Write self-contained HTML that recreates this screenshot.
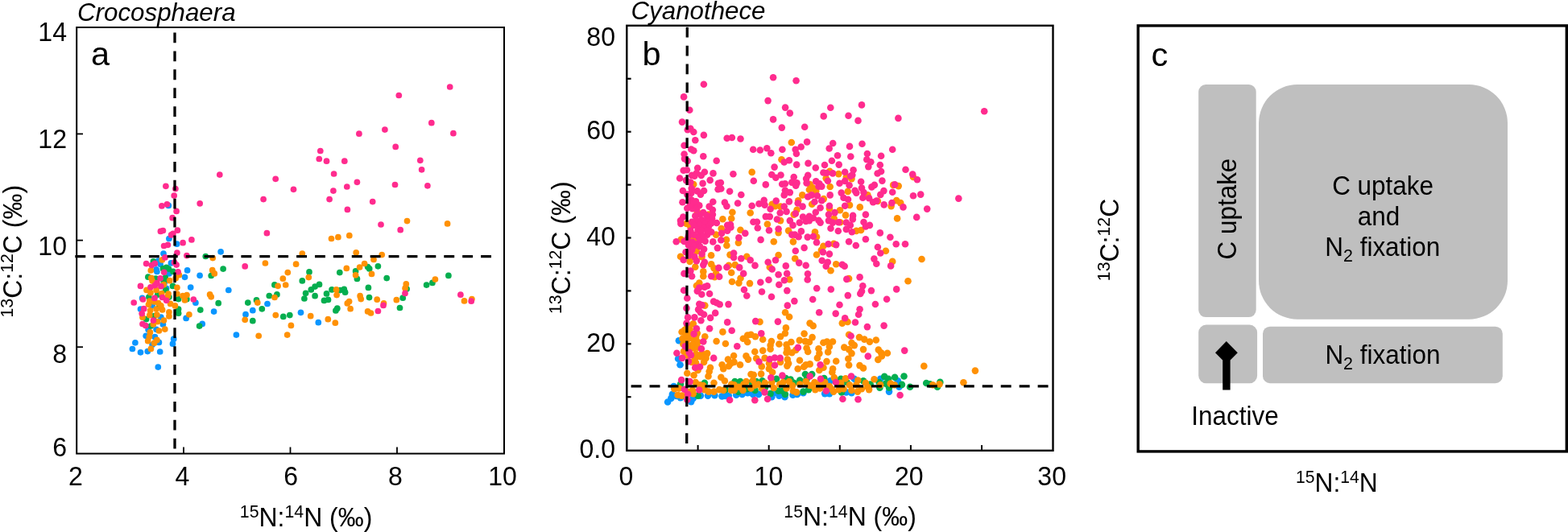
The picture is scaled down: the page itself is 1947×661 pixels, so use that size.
<!DOCTYPE html>
<html><head><meta charset="utf-8"><title>Figure</title>
<style>
html,body{margin:0;padding:0;background:#fff;}
body{width:1947px;height:661px;overflow:hidden;}
svg{display:block;}
text{font-family:"Liberation Sans",Arial,Helvetica,sans-serif;fill:#000;}
.tk{font-size:33.4px;}
.ax{font-size:33.3px;}
.bx{font-size:32.6px;}
.sup{font-size:22.2px;}
.ti{font-size:31.3px;font-style:italic;}
.pl{font-size:41.5px;}
.p{fill:#ff2b8e}.o{fill:#ff9105}.g{fill:#04ae4f}.b{fill:#0a96ff}
</style></head><body>
<svg width="1947" height="661" viewBox="0 0 1947 661">
<rect width="1947" height="661" fill="#fff"/>

<g id="panel-a">
<text class="ti" transform="translate(96,26)">Crocosphaera</text>
<circle class="b" cx="209.3" cy="255.4" r="3.85"/>
<circle class="b" cx="209.9" cy="296.5" r="3.85"/>
<circle class="b" cx="219.6" cy="303.2" r="3.85"/>
<circle class="b" cx="274.1" cy="312.8" r="3.85"/>
<circle class="b" cx="395.3" cy="400.7" r="3.85"/>
<circle class="b" cx="232.6" cy="335.9" r="3.85"/>
<circle class="b" cx="229.5" cy="344.3" r="3.85"/>
<circle class="b" cx="248.1" cy="342.3" r="3.85"/>
<circle class="b" cx="236.7" cy="357.1" r="3.85"/>
<circle class="b" cx="283.8" cy="360.5" r="3.85"/>
<circle class="b" cx="242.9" cy="376.2" r="3.85"/>
<circle class="b" cx="332.0" cy="377.5" r="3.85"/>
<circle class="b" cx="265.6" cy="387.1" r="3.85"/>
<circle class="b" cx="305.0" cy="390.7" r="3.85"/>
<circle class="b" cx="313.8" cy="385.7" r="3.85"/>
<circle class="b" cx="373.5" cy="388.3" r="3.85"/>
<circle class="b" cx="251.2" cy="402.4" r="3.85"/>
<circle class="b" cx="293.4" cy="416.1" r="3.85"/>
<circle class="b" cx="231.1" cy="395.4" r="3.85"/>
<circle class="b" cx="203.0" cy="315.0" r="3.85"/>
<circle class="b" cx="212.4" cy="326.9" r="3.85"/>
<circle class="b" cx="196.6" cy="324.1" r="3.85"/>
<circle class="b" cx="199.1" cy="328.3" r="3.85"/>
<circle class="b" cx="194.1" cy="334.9" r="3.85"/>
<circle class="b" cx="209.9" cy="340.0" r="3.85"/>
<circle class="b" cx="194.9" cy="337.5" r="3.85"/>
<circle class="b" cx="176.6" cy="370.4" r="3.85"/>
<circle class="b" cx="174.5" cy="384.1" r="3.85"/>
<circle class="b" cx="189.1" cy="379.9" r="3.85"/>
<circle class="b" cx="206.6" cy="358.3" r="3.85"/>
<circle class="b" cx="204.1" cy="351.6" r="3.85"/>
<circle class="b" cx="199.9" cy="394.2" r="3.85"/>
<circle class="b" cx="202.4" cy="402.9" r="3.85"/>
<circle class="b" cx="184.1" cy="409.5" r="3.85"/>
<circle class="b" cx="194.1" cy="409.3" r="3.85"/>
<circle class="b" cx="181.2" cy="417.3" r="3.85"/>
<circle class="b" cx="192.4" cy="418.7" r="3.85"/>
<circle class="b" cx="215.7" cy="421.2" r="3.85"/>
<circle class="b" cx="214.5" cy="427.2" r="3.85"/>
<circle class="b" cx="167.9" cy="425.8" r="3.85"/>
<circle class="b" cx="164.4" cy="433.5" r="3.85"/>
<circle class="b" cx="174.5" cy="437.8" r="3.85"/>
<circle class="b" cx="183.3" cy="436.6" r="3.85"/>
<circle class="b" cx="198.7" cy="437.0" r="3.85"/>
<circle class="b" cx="189.1" cy="428.3" r="3.85"/>
<circle class="b" cx="197.4" cy="425.4" r="3.85"/>
<circle class="b" cx="196.3" cy="456.1" r="3.85"/>
<circle class="g" cx="384.0" cy="337.9" r="3.85"/>
<circle class="g" cx="421.8" cy="338.6" r="3.85"/>
<circle class="g" cx="441.6" cy="336.9" r="3.85"/>
<circle class="g" cx="443.4" cy="346.4" r="3.85"/>
<circle class="g" cx="456.6" cy="331.6" r="3.85"/>
<circle class="g" cx="458.7" cy="333.9" r="3.85"/>
<circle class="g" cx="469.4" cy="330.8" r="3.85"/>
<circle class="g" cx="480.2" cy="345.6" r="3.85"/>
<circle class="g" cx="556.9" cy="342.4" r="3.85"/>
<circle class="g" cx="536.9" cy="351.4" r="3.85"/>
<circle class="g" cx="529.6" cy="354.1" r="3.85"/>
<circle class="g" cx="396.5" cy="353.4" r="3.85"/>
<circle class="g" cx="391.1" cy="356.1" r="3.85"/>
<circle class="g" cx="386.3" cy="359.9" r="3.85"/>
<circle class="g" cx="379.6" cy="364.3" r="3.85"/>
<circle class="g" cx="391.1" cy="367.7" r="3.85"/>
<circle class="g" cx="405.5" cy="364.9" r="3.85"/>
<circle class="g" cx="412.0" cy="359.9" r="3.85"/>
<circle class="g" cx="422.4" cy="360.6" r="3.85"/>
<circle class="g" cx="427.3" cy="359.4" r="3.85"/>
<circle class="g" cx="428.6" cy="363.2" r="3.85"/>
<circle class="g" cx="402.5" cy="373.4" r="3.85"/>
<circle class="g" cx="407.5" cy="372.4" r="3.85"/>
<circle class="g" cx="418.8" cy="383.2" r="3.85"/>
<circle class="g" cx="416.9" cy="385.9" r="3.85"/>
<circle class="g" cx="457.4" cy="357.4" r="3.85"/>
<circle class="g" cx="458.5" cy="369.6" r="3.85"/>
<circle class="g" cx="500.2" cy="370.2" r="3.85"/>
<circle class="g" cx="505.1" cy="359.1" r="3.85"/>
<circle class="g" cx="496.5" cy="382.5" r="3.85"/>
<circle class="g" cx="377.9" cy="371.0" r="3.85"/>
<circle class="g" cx="255.3" cy="318.5" r="3.85"/>
<circle class="g" cx="277.1" cy="334.1" r="3.85"/>
<circle class="g" cx="262.2" cy="342.5" r="3.85"/>
<circle class="g" cx="340.9" cy="353.9" r="3.85"/>
<circle class="g" cx="343.9" cy="365.9" r="3.85"/>
<circle class="g" cx="334.3" cy="367.5" r="3.85"/>
<circle class="g" cx="375.3" cy="348.9" r="3.85"/>
<circle class="g" cx="318.5" cy="372.9" r="3.85"/>
<circle class="g" cx="307.8" cy="376.1" r="3.85"/>
<circle class="g" cx="271.2" cy="376.7" r="3.85"/>
<circle class="g" cx="231.9" cy="371.7" r="3.85"/>
<circle class="g" cx="248.8" cy="385.1" r="3.85"/>
<circle class="g" cx="325.3" cy="383.8" r="3.85"/>
<circle class="g" cx="313.8" cy="398.7" r="3.85"/>
<circle class="g" cx="351.8" cy="393.4" r="3.85"/>
<circle class="g" cx="359.8" cy="391.6" r="3.85"/>
<circle class="g" cx="247.6" cy="405.1" r="3.85"/>
<circle class="g" cx="190.4" cy="324.9" r="3.85"/>
<circle class="g" cx="202.4" cy="333.7" r="3.85"/>
<circle class="g" cx="206.6" cy="332.4" r="3.85"/>
<circle class="g" cx="209.5" cy="334.1" r="3.85"/>
<circle class="g" cx="214.9" cy="337.4" r="3.85"/>
<circle class="g" cx="183.9" cy="344.2" r="3.85"/>
<circle class="g" cx="193.3" cy="346.2" r="3.85"/>
<circle class="g" cx="205.3" cy="345.0" r="3.85"/>
<circle class="g" cx="203.3" cy="350.0" r="3.85"/>
<circle class="g" cx="214.5" cy="355.4" r="3.85"/>
<circle class="g" cx="205.7" cy="360.4" r="3.85"/>
<circle class="g" cx="184.9" cy="369.1" r="3.85"/>
<circle class="g" cx="195.8" cy="366.2" r="3.85"/>
<circle class="g" cx="209.9" cy="369.1" r="3.85"/>
<circle class="g" cx="221.6" cy="371.6" r="3.85"/>
<circle class="g" cx="221.6" cy="384.1" r="3.85"/>
<circle class="g" cx="197.8" cy="380.8" r="3.85"/>
<circle class="g" cx="181.6" cy="396.6" r="3.85"/>
<circle class="g" cx="191.6" cy="392.5" r="3.85"/>
<circle class="g" cx="187.4" cy="405.0" r="3.85"/>
<circle class="g" cx="221.6" cy="389.2" r="3.85"/>
<circle class="o" cx="505.5" cy="274.6" r="3.85"/>
<circle class="o" cx="555.6" cy="277.9" r="3.85"/>
<circle class="o" cx="411.5" cy="296.5" r="3.85"/>
<circle class="o" cx="419.9" cy="294.7" r="3.85"/>
<circle class="o" cx="433.8" cy="292.7" r="3.85"/>
<circle class="o" cx="442.2" cy="313.8" r="3.85"/>
<circle class="o" cx="474.2" cy="316.6" r="3.85"/>
<circle class="o" cx="464.0" cy="322.5" r="3.85"/>
<circle class="o" cx="452.6" cy="327.5" r="3.85"/>
<circle class="o" cx="446.6" cy="332.0" r="3.85"/>
<circle class="o" cx="430.3" cy="333.4" r="3.85"/>
<circle class="o" cx="461.5" cy="340.4" r="3.85"/>
<circle class="o" cx="441.6" cy="341.8" r="3.85"/>
<circle class="o" cx="383.3" cy="344.6" r="3.85"/>
<circle class="o" cx="540.4" cy="347.1" r="3.85"/>
<circle class="o" cx="504.3" cy="352.9" r="3.85"/>
<circle class="o" cx="503.1" cy="358.2" r="3.85"/>
<circle class="o" cx="417.6" cy="359.9" r="3.85"/>
<circle class="o" cx="418.1" cy="366.6" r="3.85"/>
<circle class="o" cx="447.1" cy="367.7" r="3.85"/>
<circle class="o" cx="448.2" cy="371.6" r="3.85"/>
<circle class="o" cx="468.2" cy="372.2" r="3.85"/>
<circle class="o" cx="492.3" cy="372.7" r="3.85"/>
<circle class="o" cx="433.6" cy="374.6" r="3.85"/>
<circle class="o" cx="431.3" cy="376.9" r="3.85"/>
<circle class="o" cx="476.5" cy="376.9" r="3.85"/>
<circle class="o" cx="435.1" cy="383.7" r="3.85"/>
<circle class="o" cx="456.6" cy="386.9" r="3.85"/>
<circle class="o" cx="460.5" cy="389.0" r="3.85"/>
<circle class="o" cx="385.7" cy="392.7" r="3.85"/>
<circle class="o" cx="407.3" cy="396.7" r="3.85"/>
<circle class="o" cx="416.3" cy="401.2" r="3.85"/>
<circle class="o" cx="576.5" cy="373.9" r="3.85"/>
<circle class="o" cx="585.9" cy="371.6" r="3.85"/>
<circle class="o" cx="264.2" cy="320.6" r="3.85"/>
<circle class="o" cx="263.7" cy="335.7" r="3.85"/>
<circle class="o" cx="266.3" cy="339.9" r="3.85"/>
<circle class="o" cx="329.4" cy="327.0" r="3.85"/>
<circle class="o" cx="367.6" cy="328.2" r="3.85"/>
<circle class="o" cx="375.3" cy="315.1" r="3.85"/>
<circle class="o" cx="357.3" cy="338.6" r="3.85"/>
<circle class="o" cx="351.3" cy="346.2" r="3.85"/>
<circle class="o" cx="354.7" cy="354.0" r="3.85"/>
<circle class="o" cx="345.1" cy="355.3" r="3.85"/>
<circle class="o" cx="341.0" cy="369.5" r="3.85"/>
<circle class="o" cx="260.6" cy="365.9" r="3.85"/>
<circle class="o" cx="262.2" cy="368.8" r="3.85"/>
<circle class="o" cx="232.0" cy="366.6" r="3.85"/>
<circle class="o" cx="319.8" cy="376.1" r="3.85"/>
<circle class="o" cx="234.9" cy="390.8" r="3.85"/>
<circle class="o" cx="304.2" cy="397.3" r="3.85"/>
<circle class="o" cx="342.3" cy="391.6" r="3.85"/>
<circle class="o" cx="361.4" cy="404.4" r="3.85"/>
<circle class="o" cx="356.7" cy="416.1" r="3.85"/>
<circle class="o" cx="321.2" cy="417.3" r="3.85"/>
<circle class="o" cx="201.3" cy="322.9" r="3.85"/>
<circle class="o" cx="187.3" cy="336.0" r="3.85"/>
<circle class="o" cx="222.4" cy="341.7" r="3.85"/>
<circle class="o" cx="187.9" cy="345.4" r="3.85"/>
<circle class="o" cx="189.1" cy="349.1" r="3.85"/>
<circle class="o" cx="210.7" cy="348.7" r="3.85"/>
<circle class="o" cx="203.3" cy="353.7" r="3.85"/>
<circle class="o" cx="219.9" cy="357.3" r="3.85"/>
<circle class="o" cx="182.0" cy="360.4" r="3.85"/>
<circle class="o" cx="187.0" cy="363.7" r="3.85"/>
<circle class="o" cx="194.1" cy="360.4" r="3.85"/>
<circle class="o" cx="200.8" cy="364.5" r="3.85"/>
<circle class="o" cx="209.1" cy="365.0" r="3.85"/>
<circle class="o" cx="208.2" cy="368.3" r="3.85"/>
<circle class="o" cx="219.9" cy="365.0" r="3.85"/>
<circle class="o" cx="227.0" cy="367.5" r="3.85"/>
<circle class="o" cx="229.5" cy="372.9" r="3.85"/>
<circle class="o" cx="185.8" cy="374.1" r="3.85"/>
<circle class="o" cx="184.5" cy="378.3" r="3.85"/>
<circle class="o" cx="191.6" cy="374.9" r="3.85"/>
<circle class="o" cx="196.6" cy="376.6" r="3.85"/>
<circle class="o" cx="199.9" cy="379.9" r="3.85"/>
<circle class="o" cx="194.1" cy="384.1" r="3.85"/>
<circle class="o" cx="201.6" cy="384.9" r="3.85"/>
<circle class="o" cx="186.6" cy="385.8" r="3.85"/>
<circle class="o" cx="211.6" cy="377.4" r="3.85"/>
<circle class="o" cx="217.4" cy="379.9" r="3.85"/>
<circle class="o" cx="209.9" cy="387.8" r="3.85"/>
<circle class="o" cx="218.2" cy="345.8" r="3.85"/>
<circle class="o" cx="185.8" cy="391.7" r="3.85"/>
<circle class="o" cx="194.9" cy="391.2" r="3.85"/>
<circle class="o" cx="177.0" cy="394.2" r="3.85"/>
<circle class="o" cx="209.9" cy="392.9" r="3.85"/>
<circle class="o" cx="203.5" cy="398.1" r="3.85"/>
<circle class="o" cx="195.8" cy="399.6" r="3.85"/>
<circle class="o" cx="190.4" cy="402.9" r="3.85"/>
<circle class="o" cx="197.4" cy="411.0" r="3.85"/>
<circle class="o" cx="204.8" cy="409.1" r="3.85"/>
<circle class="o" cx="186.4" cy="412.9" r="3.85"/>
<circle class="o" cx="185.4" cy="418.3" r="3.85"/>
<circle class="o" cx="183.7" cy="423.7" r="3.85"/>
<circle class="o" cx="194.9" cy="422.4" r="3.85"/>
<circle class="o" cx="191.6" cy="426.2" r="3.85"/>
<circle class="o" cx="187.4" cy="433.4" r="3.85"/>
<circle class="p" cx="558.7" cy="108.0" r="3.85"/>
<circle class="p" cx="495.3" cy="118.5" r="3.85"/>
<circle class="p" cx="535.8" cy="152.7" r="3.85"/>
<circle class="p" cx="562.9" cy="165.7" r="3.85"/>
<circle class="p" cx="477.9" cy="161.1" r="3.85"/>
<circle class="p" cx="445.9" cy="166.2" r="3.85"/>
<circle class="p" cx="491.2" cy="182.4" r="3.85"/>
<circle class="p" cx="397.8" cy="187.5" r="3.85"/>
<circle class="p" cx="396.3" cy="197.5" r="3.85"/>
<circle class="p" cx="405.5" cy="200.2" r="3.85"/>
<circle class="p" cx="427.8" cy="200.2" r="3.85"/>
<circle class="p" cx="521.8" cy="199.3" r="3.85"/>
<circle class="p" cx="272.8" cy="217.1" r="3.85"/>
<circle class="p" cx="342.2" cy="222.3" r="3.85"/>
<circle class="p" cx="364.5" cy="235.3" r="3.85"/>
<circle class="p" cx="327.1" cy="247.6" r="3.85"/>
<circle class="p" cx="248.2" cy="252.8" r="3.85"/>
<circle class="p" cx="205.9" cy="231.3" r="3.85"/>
<circle class="p" cx="217.9" cy="234.6" r="3.85"/>
<circle class="p" cx="216.2" cy="243.1" r="3.85"/>
<circle class="p" cx="207.4" cy="253.9" r="3.85"/>
<circle class="p" cx="200.9" cy="255.9" r="3.85"/>
<circle class="p" cx="219.1" cy="262.4" r="3.85"/>
<circle class="p" cx="214.1" cy="270.7" r="3.85"/>
<circle class="p" cx="220.4" cy="286.2" r="3.85"/>
<circle class="p" cx="199.4" cy="287.4" r="3.85"/>
<circle class="p" cx="202.4" cy="286.5" r="3.85"/>
<circle class="p" cx="212.6" cy="291.9" r="3.85"/>
<circle class="p" cx="214.9" cy="290.4" r="3.85"/>
<circle class="p" cx="237.9" cy="297.9" r="3.85"/>
<circle class="p" cx="227.1" cy="301.7" r="3.85"/>
<circle class="p" cx="203.6" cy="305.5" r="3.85"/>
<circle class="p" cx="208.4" cy="304.3" r="3.85"/>
<circle class="p" cx="331.4" cy="289.7" r="3.85"/>
<circle class="p" cx="523.6" cy="210.8" r="3.85"/>
<circle class="p" cx="414.6" cy="216.0" r="3.85"/>
<circle class="p" cx="443.4" cy="226.3" r="3.85"/>
<circle class="p" cx="430.8" cy="232.0" r="3.85"/>
<circle class="p" cx="490.5" cy="229.5" r="3.85"/>
<circle class="p" cx="530.9" cy="230.8" r="3.85"/>
<circle class="p" cx="413.9" cy="237.1" r="3.85"/>
<circle class="p" cx="409.1" cy="247.6" r="3.85"/>
<circle class="p" cx="462.7" cy="250.6" r="3.85"/>
<circle class="p" cx="431.4" cy="260.4" r="3.85"/>
<circle class="p" cx="473.0" cy="279.0" r="3.85"/>
<circle class="p" cx="497.2" cy="285.7" r="3.85"/>
<circle class="p" cx="503.0" cy="364.4" r="3.85"/>
<circle class="p" cx="476.0" cy="379.4" r="3.85"/>
<circle class="p" cx="469.4" cy="386.5" r="3.85"/>
<circle class="p" cx="571.9" cy="366.2" r="3.85"/>
<circle class="p" cx="585.2" cy="374.2" r="3.85"/>
<circle class="p" cx="304.2" cy="330.9" r="3.85"/>
<circle class="p" cx="231.9" cy="317.6" r="3.85"/>
<circle class="p" cx="240.3" cy="372.0" r="3.85"/>
<circle class="p" cx="219.9" cy="314.0" r="3.85"/>
<circle class="p" cx="204.9" cy="319.9" r="3.85"/>
<circle class="p" cx="181.6" cy="327.6" r="3.85"/>
<circle class="p" cx="188.3" cy="329.5" r="3.85"/>
<circle class="p" cx="192.3" cy="327.4" r="3.85"/>
<circle class="p" cx="219.1" cy="329.1" r="3.85"/>
<circle class="p" cx="216.6" cy="326.2" r="3.85"/>
<circle class="p" cx="203.7" cy="338.3" r="3.85"/>
<circle class="p" cx="221.1" cy="337.8" r="3.85"/>
<circle class="p" cx="174.5" cy="355.4" r="3.85"/>
<circle class="p" cx="166.2" cy="376.0" r="3.85"/>
<circle class="p" cx="177.5" cy="372.0" r="3.85"/>
<circle class="p" cx="178.7" cy="383.7" r="3.85"/>
<circle class="p" cx="176.2" cy="389.6" r="3.85"/>
<circle class="p" cx="199.1" cy="345.8" r="3.85"/>
<circle class="p" cx="194.9" cy="351.6" r="3.85"/>
<circle class="p" cx="192.4" cy="354.6" r="3.85"/>
<circle class="p" cx="187.0" cy="356.8" r="3.85"/>
<circle class="p" cx="199.9" cy="355.8" r="3.85"/>
<circle class="p" cx="192.0" cy="370.4" r="3.85"/>
<circle class="p" cx="201.6" cy="369.5" r="3.85"/>
<circle class="p" cx="206.6" cy="373.3" r="3.85"/>
<circle class="p" cx="190.4" cy="398.1" r="3.85"/>
<circle class="p" cx="177.0" cy="402.5" r="3.85"/>
<circle class="p" cx="180.8" cy="404.6" r="3.85"/>
<rect x="95.2" y="34" width="530.8" height="529.6" fill="none" stroke="#000" stroke-width="2"/>
<line x1="228" y1="563" x2="228" y2="555.5" stroke="#000" stroke-width="1.8"/>
<line x1="360.5" y1="563" x2="360.5" y2="555.5" stroke="#000" stroke-width="1.8"/>
<line x1="493" y1="563" x2="493" y2="555.5" stroke="#000" stroke-width="1.8"/>
<line x1="95.5" y1="166.4" x2="103" y2="166.4" stroke="#000" stroke-width="1.8"/>
<line x1="95.5" y1="298.6" x2="103" y2="298.6" stroke="#000" stroke-width="1.8"/>
<line x1="95.5" y1="431.2" x2="103" y2="431.2" stroke="#000" stroke-width="1.8"/>
<line x1="217" y1="40.5" x2="217" y2="558" stroke="#000" stroke-width="3.3" stroke-dasharray="12.8 10.12"/>
<line x1="93.3" y1="318.7" x2="612" y2="318.7" stroke="#000" stroke-width="3.3" stroke-dasharray="12.9 10"/>
<text class="tk" transform="translate(83,50.5) scale(0.96,1)" text-anchor="end">14</text>
<text class="tk" transform="translate(83,184) scale(0.96,1)" text-anchor="end">12</text>
<text class="tk" transform="translate(83,317.4) scale(0.96,1)" text-anchor="end">10</text>
<text class="tk" transform="translate(83,451.1) scale(0.96,1)" text-anchor="end">8</text>
<text class="tk" transform="translate(83,567.3) scale(0.96,1)" text-anchor="end">6</text>
<text class="tk" transform="translate(94,602.6) scale(0.96,1)" text-anchor="middle">2</text>
<text class="tk" transform="translate(226.5,602.6) scale(0.96,1)" text-anchor="middle">4</text>
<text class="tk" transform="translate(361.2,602.6) scale(0.96,1)" text-anchor="middle">6</text>
<text class="tk" transform="translate(490.8,602.6) scale(0.96,1)" text-anchor="middle">8</text>
<text class="tk" transform="translate(624,602.6) scale(0.96,1)" text-anchor="middle">10</text>
<text class="pl" transform="translate(113,81.3)">a</text>
<text class="ax" transform="translate(297.8,653.6) scale(0.96,1)"><tspan class="sup" dy="-10.6">15</tspan><tspan dy="10.6">N:</tspan><tspan class="sup" dy="-10.6">14</tspan><tspan dy="10.6">N (‰)</tspan></text>
<text class="ax" transform="translate(26.5,394.5) rotate(-90) scale(0.96,1)"><tspan class="sup" dy="-10.6">13</tspan><tspan dy="10.6">C:</tspan><tspan class="sup" dy="-10.6">12</tspan><tspan dy="10.6">C (‰)</tspan></text>
</g>
<g id="panel-b">
<text class="ti" transform="translate(783.5,24)">Cyanothece</text>
<circle class="b" cx="842.9" cy="423.3" r="4.3"/>
<circle class="b" cx="842.1" cy="445.8" r="4.3"/>
<circle class="b" cx="844.5" cy="453.3" r="4.3"/>
<circle class="b" cx="836.6" cy="480.0" r="4.3"/>
<circle class="b" cx="834.9" cy="489.9" r="4.3"/>
<circle class="b" cx="833.3" cy="494.9" r="4.3"/>
<circle class="b" cx="829.1" cy="499.5" r="4.3"/>
<circle class="b" cx="844.9" cy="494.1" r="4.3"/>
<circle class="b" cx="858.2" cy="499.1" r="4.3"/>
<circle class="b" cx="879.0" cy="491.6" r="4.3"/>
<circle class="b" cx="896.5" cy="492.4" r="4.3"/>
<circle class="b" cx="904.8" cy="491.6" r="4.3"/>
<circle class="b" cx="860.7" cy="494.9" r="4.3"/>
<circle class="b" cx="914.2" cy="490.8" r="4.3"/>
<circle class="b" cx="921.6" cy="489.9" r="4.3"/>
<circle class="b" cx="928.3" cy="488.3" r="4.3"/>
<circle class="b" cx="942.0" cy="489.9" r="4.3"/>
<circle class="b" cx="960.8" cy="488.3" r="4.3"/>
<circle class="b" cx="974.5" cy="493.3" r="4.3"/>
<circle class="b" cx="984.5" cy="490.8" r="4.3"/>
<circle class="b" cx="997.4" cy="488.3" r="4.3"/>
<circle class="b" cx="1024.2" cy="489.1" r="4.3"/>
<circle class="b" cx="958.3" cy="493.3" r="4.3"/>
<circle class="b" cx="1030.8" cy="473.3" r="4.3"/>
<circle class="b" cx="1030.0" cy="489.1" r="4.3"/>
<circle class="b" cx="1050.8" cy="487.4" r="4.3"/>
<circle class="b" cx="1057.4" cy="488.3" r="4.3"/>
<circle class="b" cx="1093.2" cy="470.8" r="4.3"/>
<circle class="b" cx="1104.0" cy="486.6" r="4.3"/>
<circle class="b" cx="1114.9" cy="473.3" r="4.3"/>
<circle class="b" cx="1116.5" cy="480.8" r="4.3"/>
<circle class="b" cx="1060.8" cy="470.8" r="4.3"/>
<circle class="b" cx="935.0" cy="489.9" r="4.3"/>
<circle class="b" cx="967.4" cy="491.6" r="4.3"/>
<circle class="b" cx="989.9" cy="489.9" r="4.3"/>
<circle class="b" cx="839.9" cy="492.0" r="4.3"/>
<circle class="b" cx="851.6" cy="493.3" r="4.3"/>
<circle class="b" cx="869.9" cy="491.6" r="4.3"/>
<circle class="b" cx="887.4" cy="491.2" r="4.3"/>
<circle class="b" cx="900.7" cy="492.0" r="4.3"/>
<circle class="g" cx="1150.2" cy="476.0" r="4.3"/>
<circle class="g" cx="1167.3" cy="474.9" r="4.3"/>
<circle class="g" cx="1164.0" cy="480.7" r="4.3"/>
<circle class="g" cx="1154.8" cy="477.4" r="4.3"/>
<circle class="g" cx="874.9" cy="475.8" r="4.3"/>
<circle class="g" cx="900.7" cy="484.1" r="4.3"/>
<circle class="g" cx="866.6" cy="491.6" r="4.3"/>
<circle class="g" cx="844.9" cy="477.5" r="4.3"/>
<circle class="g" cx="912.5" cy="474.1" r="4.3"/>
<circle class="g" cx="919.2" cy="474.1" r="4.3"/>
<circle class="g" cx="916.7" cy="486.6" r="4.3"/>
<circle class="g" cx="939.1" cy="474.1" r="4.3"/>
<circle class="g" cx="937.5" cy="484.9" r="4.3"/>
<circle class="g" cx="946.6" cy="473.3" r="4.3"/>
<circle class="g" cx="956.6" cy="489.1" r="4.3"/>
<circle class="g" cx="964.1" cy="470.8" r="4.3"/>
<circle class="g" cx="966.6" cy="485.8" r="4.3"/>
<circle class="g" cx="975.7" cy="470.0" r="4.3"/>
<circle class="g" cx="981.6" cy="471.6" r="4.3"/>
<circle class="g" cx="974.9" cy="489.9" r="4.3"/>
<circle class="g" cx="971.6" cy="485.8" r="4.3"/>
<circle class="g" cx="985.7" cy="475.8" r="4.3"/>
<circle class="g" cx="999.9" cy="465.0" r="4.3"/>
<circle class="g" cx="1008.2" cy="465.0" r="4.3"/>
<circle class="g" cx="997.4" cy="486.6" r="4.3"/>
<circle class="g" cx="1004.0" cy="484.1" r="4.3"/>
<circle class="g" cx="993.2" cy="472.5" r="4.3"/>
<circle class="g" cx="1023.3" cy="470.0" r="4.3"/>
<circle class="g" cx="1044.1" cy="470.8" r="4.3"/>
<circle class="g" cx="1045.0" cy="487.4" r="4.3"/>
<circle class="g" cx="1072.0" cy="473.3" r="4.3"/>
<circle class="g" cx="1051.6" cy="475.0" r="4.3"/>
<circle class="g" cx="1080.7" cy="477.5" r="4.3"/>
<circle class="g" cx="1092.4" cy="481.6" r="4.3"/>
<circle class="g" cx="1098.2" cy="467.9" r="4.3"/>
<circle class="g" cx="1103.2" cy="470.8" r="4.3"/>
<circle class="g" cx="1099.9" cy="476.6" r="4.3"/>
<circle class="g" cx="1104.0" cy="481.6" r="4.3"/>
<circle class="g" cx="1111.1" cy="468.7" r="4.3"/>
<circle class="g" cx="1122.5" cy="467.5" r="4.3"/>
<circle class="g" cx="1119.9" cy="477.9" r="4.3"/>
<circle class="g" cx="1130.0" cy="480.8" r="4.3"/>
<circle class="g" cx="1091.6" cy="475.0" r="4.3"/>
<circle class="g" cx="927.5" cy="483.3" r="4.3"/>
<circle class="g" cx="949.9" cy="481.6" r="4.3"/>
<circle class="g" cx="1001.5" cy="471.6" r="4.3"/>
<circle class="g" cx="933.3" cy="475.0" r="4.3"/>
<circle class="o" cx="982.8" cy="177.0" r="4.3"/>
<circle class="o" cx="970.5" cy="198.3" r="4.3"/>
<circle class="o" cx="1041.3" cy="216.1" r="4.3"/>
<circle class="o" cx="1050.8" cy="220.0" r="4.3"/>
<circle class="o" cx="1057.5" cy="222.1" r="4.3"/>
<circle class="o" cx="1134.0" cy="220.0" r="4.3"/>
<circle class="o" cx="1109.1" cy="229.9" r="4.3"/>
<circle class="o" cx="1115.7" cy="231.1" r="4.3"/>
<circle class="o" cx="1052.8" cy="237.9" r="4.3"/>
<circle class="o" cx="1077.4" cy="242.4" r="4.3"/>
<circle class="o" cx="1113.2" cy="249.1" r="4.3"/>
<circle class="o" cx="1118.2" cy="252.1" r="4.3"/>
<circle class="o" cx="1106.6" cy="256.1" r="4.3"/>
<circle class="o" cx="1089.9" cy="249.9" r="4.3"/>
<circle class="o" cx="1055.0" cy="254.9" r="4.3"/>
<circle class="o" cx="1067.8" cy="257.4" r="4.3"/>
<circle class="o" cx="1043.0" cy="261.2" r="4.3"/>
<circle class="o" cx="1050.0" cy="267.4" r="4.3"/>
<circle class="o" cx="1043.3" cy="276.2" r="4.3"/>
<circle class="o" cx="1114.1" cy="271.4" r="4.3"/>
<circle class="o" cx="1063.3" cy="286.9" r="4.3"/>
<circle class="o" cx="1069.1" cy="286.0" r="4.3"/>
<circle class="o" cx="861.2" cy="229.1" r="4.3"/>
<circle class="o" cx="933.7" cy="213.9" r="4.3"/>
<circle class="o" cx="1030.3" cy="212.9" r="4.3"/>
<circle class="o" cx="1025.7" cy="221.6" r="4.3"/>
<circle class="o" cx="1005.7" cy="229.1" r="4.3"/>
<circle class="o" cx="1009.0" cy="233.3" r="4.3"/>
<circle class="o" cx="1004.9" cy="235.8" r="4.3"/>
<circle class="o" cx="1013.2" cy="237.4" r="4.3"/>
<circle class="o" cx="1030.7" cy="232.0" r="4.3"/>
<circle class="o" cx="996.3" cy="242.4" r="4.3"/>
<circle class="o" cx="1022.8" cy="247.1" r="4.3"/>
<circle class="o" cx="863.3" cy="250.8" r="4.3"/>
<circle class="o" cx="865.8" cy="262.9" r="4.3"/>
<circle class="o" cx="879.9" cy="266.6" r="4.3"/>
<circle class="o" cx="909.4" cy="263.7" r="4.3"/>
<circle class="o" cx="908.2" cy="271.5" r="4.3"/>
<circle class="o" cx="897.4" cy="272.3" r="4.3"/>
<circle class="o" cx="931.7" cy="264.5" r="4.3"/>
<circle class="o" cx="852.5" cy="277.9" r="4.3"/>
<circle class="o" cx="857.4" cy="282.0" r="4.3"/>
<circle class="o" cx="895.7" cy="284.1" r="4.3"/>
<circle class="o" cx="919.4" cy="285.8" r="4.3"/>
<circle class="o" cx="889.1" cy="291.6" r="4.3"/>
<circle class="o" cx="845.8" cy="297.5" r="4.3"/>
<circle class="o" cx="861.6" cy="296.7" r="4.3"/>
<circle class="o" cx="902.0" cy="297.9" r="4.3"/>
<circle class="o" cx="991.2" cy="249.2" r="4.3"/>
<circle class="o" cx="958.7" cy="253.7" r="4.3"/>
<circle class="o" cx="962.5" cy="256.2" r="4.3"/>
<circle class="o" cx="969.1" cy="256.6" r="4.3"/>
<circle class="o" cx="989.5" cy="260.8" r="4.3"/>
<circle class="o" cx="985.7" cy="266.6" r="4.3"/>
<circle class="o" cx="1008.2" cy="253.7" r="4.3"/>
<circle class="o" cx="969.1" cy="274.1" r="4.3"/>
<circle class="o" cx="952.9" cy="278.5" r="4.3"/>
<circle class="o" cx="966.6" cy="289.1" r="4.3"/>
<circle class="o" cx="979.1" cy="286.6" r="4.3"/>
<circle class="o" cx="1012.0" cy="288.3" r="4.3"/>
<circle class="o" cx="1029.9" cy="259.1" r="4.3"/>
<circle class="o" cx="1035.7" cy="271.6" r="4.3"/>
<circle class="o" cx="1014.0" cy="294.2" r="4.3"/>
<circle class="o" cx="902.4" cy="305.0" r="4.3"/>
<circle class="o" cx="916.9" cy="301.6" r="4.3"/>
<circle class="o" cx="864.9" cy="312.1" r="4.3"/>
<circle class="o" cx="871.6" cy="319.1" r="4.3"/>
<circle class="o" cx="883.1" cy="317.3" r="4.3"/>
<circle class="o" cx="845.0" cy="318.7" r="4.3"/>
<circle class="o" cx="906.5" cy="316.6" r="4.3"/>
<circle class="o" cx="927.3" cy="318.7" r="4.3"/>
<circle class="o" cx="856.6" cy="324.9" r="4.3"/>
<circle class="o" cx="863.3" cy="331.6" r="4.3"/>
<circle class="o" cx="883.2" cy="328.3" r="4.3"/>
<circle class="o" cx="886.6" cy="333.3" r="4.3"/>
<circle class="o" cx="904.9" cy="329.9" r="4.3"/>
<circle class="o" cx="912.8" cy="329.1" r="4.3"/>
<circle class="o" cx="908.2" cy="338.7" r="4.3"/>
<circle class="o" cx="873.3" cy="337.4" r="4.3"/>
<circle class="o" cx="873.3" cy="343.3" r="4.3"/>
<circle class="o" cx="889.1" cy="339.9" r="4.3"/>
<circle class="o" cx="919.5" cy="345.8" r="4.3"/>
<circle class="o" cx="960.8" cy="300.2" r="4.3"/>
<circle class="o" cx="984.9" cy="300.4" r="4.3"/>
<circle class="o" cx="966.6" cy="317.0" r="4.3"/>
<circle class="o" cx="987.2" cy="321.2" r="4.3"/>
<circle class="o" cx="1014.0" cy="316.5" r="4.3"/>
<circle class="o" cx="1022.4" cy="305.8" r="4.3"/>
<circle class="o" cx="1019.9" cy="310.8" r="4.3"/>
<circle class="o" cx="1035.3" cy="302.9" r="4.3"/>
<circle class="o" cx="955.8" cy="332.0" r="4.3"/>
<circle class="o" cx="1038.2" cy="328.3" r="4.3"/>
<circle class="o" cx="1031.5" cy="336.2" r="4.3"/>
<circle class="o" cx="980.3" cy="347.2" r="4.3"/>
<circle class="o" cx="1099.9" cy="311.8" r="4.3"/>
<circle class="o" cx="1108.2" cy="324.9" r="4.3"/>
<circle class="o" cx="1144.5" cy="322.0" r="4.3"/>
<circle class="o" cx="1054.1" cy="346.1" r="4.3"/>
<circle class="o" cx="1127.5" cy="349.2" r="4.3"/>
<circle class="o" cx="1052.5" cy="400.0" r="4.3"/>
<circle class="o" cx="1045.8" cy="401.6" r="4.3"/>
<circle class="o" cx="887.4" cy="344.2" r="4.3"/>
<circle class="o" cx="909.0" cy="350.0" r="4.3"/>
<circle class="o" cx="917.4" cy="351.6" r="4.3"/>
<circle class="o" cx="931.0" cy="352.1" r="4.3"/>
<circle class="o" cx="868.3" cy="351.6" r="4.3"/>
<circle class="o" cx="864.9" cy="355.0" r="4.3"/>
<circle class="o" cx="875.3" cy="379.6" r="4.3"/>
<circle class="o" cx="975.1" cy="388.3" r="4.3"/>
<circle class="o" cx="980.1" cy="393.8" r="4.3"/>
<circle class="o" cx="943.5" cy="399.9" r="4.3"/>
<circle class="o" cx="860.8" cy="402.4" r="4.3"/>
<circle class="o" cx="1005.6" cy="401.6" r="4.3"/>
<circle class="o" cx="1009.7" cy="404.9" r="4.3"/>
<circle class="o" cx="975.9" cy="407.4" r="4.3"/>
<circle class="o" cx="897.4" cy="412.4" r="4.3"/>
<circle class="o" cx="1054.1" cy="415.8" r="4.3"/>
<circle class="o" cx="1067.0" cy="419.1" r="4.3"/>
<circle class="o" cx="1073.3" cy="421.6" r="4.3"/>
<circle class="o" cx="1079.9" cy="424.6" r="4.3"/>
<circle class="o" cx="1087.8" cy="422.5" r="4.3"/>
<circle class="o" cx="1057.5" cy="426.1" r="4.3"/>
<circle class="o" cx="1060.8" cy="429.1" r="4.3"/>
<circle class="o" cx="1048.3" cy="431.6" r="4.3"/>
<circle class="o" cx="1054.1" cy="434.1" r="4.3"/>
<circle class="o" cx="1072.0" cy="434.1" r="4.3"/>
<circle class="o" cx="1057.5" cy="439.1" r="4.3"/>
<circle class="o" cx="1090.8" cy="434.6" r="4.3"/>
<circle class="o" cx="1094.1" cy="438.3" r="4.3"/>
<circle class="o" cx="1101.9" cy="438.8" r="4.3"/>
<circle class="o" cx="1094.9" cy="442.4" r="4.3"/>
<circle class="o" cx="1090.3" cy="446.9" r="4.3"/>
<circle class="o" cx="1053.3" cy="445.7" r="4.3"/>
<circle class="o" cx="1038.2" cy="448.7" r="4.3"/>
<circle class="o" cx="1054.1" cy="453.6" r="4.3"/>
<circle class="o" cx="1067.5" cy="454.1" r="4.3"/>
<circle class="o" cx="1072.0" cy="457.4" r="4.3"/>
<circle class="o" cx="1147.3" cy="454.9" r="4.3"/>
<circle class="o" cx="1210.9" cy="460.6" r="4.3"/>
<circle class="o" cx="1196.4" cy="475.2" r="4.3"/>
<circle class="o" cx="1158.2" cy="478.2" r="4.3"/>
<circle class="o" cx="1166.5" cy="477.4" r="4.3"/>
<circle class="o" cx="856.6" cy="409.2" r="4.3"/>
<circle class="o" cx="846.6" cy="412.5" r="4.3"/>
<circle class="o" cx="850.0" cy="410.0" r="4.3"/>
<circle class="o" cx="865.8" cy="414.1" r="4.3"/>
<circle class="o" cx="875.3" cy="418.3" r="4.3"/>
<circle class="o" cx="847.5" cy="420.8" r="4.3"/>
<circle class="o" cx="854.9" cy="420.8" r="4.3"/>
<circle class="o" cx="861.6" cy="422.5" r="4.3"/>
<circle class="o" cx="866.6" cy="425.0" r="4.3"/>
<circle class="o" cx="859.9" cy="428.3" r="4.3"/>
<circle class="o" cx="861.6" cy="432.5" r="4.3"/>
<circle class="o" cx="849.1" cy="436.6" r="4.3"/>
<circle class="o" cx="864.1" cy="439.9" r="4.3"/>
<circle class="o" cx="871.6" cy="439.1" r="4.3"/>
<circle class="o" cx="878.2" cy="439.1" r="4.3"/>
<circle class="o" cx="876.6" cy="444.9" r="4.3"/>
<circle class="o" cx="874.1" cy="449.9" r="4.3"/>
<circle class="o" cx="864.1" cy="450.8" r="4.3"/>
<circle class="o" cx="859.1" cy="449.9" r="4.3"/>
<circle class="o" cx="889.6" cy="424.0" r="4.3"/>
<circle class="o" cx="900.9" cy="427.0" r="4.3"/>
<circle class="o" cx="922.8" cy="420.8" r="4.3"/>
<circle class="o" cx="928.2" cy="416.6" r="4.3"/>
<circle class="o" cx="928.2" cy="425.0" r="4.3"/>
<circle class="o" cx="911.1" cy="442.0" r="4.3"/>
<circle class="o" cx="904.0" cy="446.6" r="4.3"/>
<circle class="o" cx="911.5" cy="449.9" r="4.3"/>
<circle class="o" cx="907.4" cy="451.6" r="4.3"/>
<circle class="o" cx="896.6" cy="453.3" r="4.3"/>
<circle class="o" cx="904.8" cy="455.0" r="4.3"/>
<circle class="o" cx="919.0" cy="453.3" r="4.3"/>
<circle class="o" cx="882.0" cy="456.7" r="4.3"/>
<circle class="o" cx="926.5" cy="442.4" r="4.3"/>
<circle class="o" cx="929.0" cy="446.6" r="4.3"/>
<circle class="o" cx="932.5" cy="415.8" r="4.3"/>
<circle class="o" cx="937.9" cy="418.3" r="4.3"/>
<circle class="o" cx="947.2" cy="421.8" r="4.3"/>
<circle class="o" cx="957.9" cy="424.1" r="4.3"/>
<circle class="o" cx="956.6" cy="429.1" r="4.3"/>
<circle class="o" cx="956.6" cy="433.7" r="4.3"/>
<circle class="o" cx="974.9" cy="414.1" r="4.3"/>
<circle class="o" cx="969.1" cy="418.3" r="4.3"/>
<circle class="o" cx="967.4" cy="427.5" r="4.3"/>
<circle class="o" cx="998.6" cy="414.6" r="4.3"/>
<circle class="o" cx="1008.6" cy="419.1" r="4.3"/>
<circle class="o" cx="992.8" cy="422.9" r="4.3"/>
<circle class="o" cx="999.9" cy="424.1" r="4.3"/>
<circle class="o" cx="1004.9" cy="425.0" r="4.3"/>
<circle class="o" cx="982.4" cy="425.0" r="4.3"/>
<circle class="o" cx="976.6" cy="428.3" r="4.3"/>
<circle class="o" cx="977.4" cy="433.3" r="4.3"/>
<circle class="o" cx="976.6" cy="438.3" r="4.3"/>
<circle class="o" cx="983.3" cy="438.3" r="4.3"/>
<circle class="o" cx="988.2" cy="434.9" r="4.3"/>
<circle class="o" cx="1001.6" cy="432.5" r="4.3"/>
<circle class="o" cx="1003.2" cy="437.0" r="4.3"/>
<circle class="o" cx="1022.4" cy="425.8" r="4.3"/>
<circle class="o" cx="1026.9" cy="424.5" r="4.3"/>
<circle class="o" cx="1034.0" cy="424.5" r="4.3"/>
<circle class="o" cx="1029.9" cy="430.8" r="4.3"/>
<circle class="o" cx="1016.5" cy="433.3" r="4.3"/>
<circle class="o" cx="1028.2" cy="437.4" r="4.3"/>
<circle class="o" cx="1017.4" cy="439.1" r="4.3"/>
<circle class="o" cx="1014.9" cy="444.9" r="4.3"/>
<circle class="o" cx="937.3" cy="437.0" r="4.3"/>
<circle class="o" cx="947.2" cy="435.6" r="4.3"/>
<circle class="o" cx="939.2" cy="445.3" r="4.3"/>
<circle class="o" cx="949.6" cy="444.9" r="4.3"/>
<circle class="o" cx="993.0" cy="447.8" r="4.3"/>
<circle class="o" cx="977.8" cy="446.6" r="4.3"/>
<circle class="o" cx="979.1" cy="451.6" r="4.3"/>
<circle class="o" cx="955.0" cy="451.6" r="4.3"/>
<circle class="o" cx="945.8" cy="455.4" r="4.3"/>
<circle class="o" cx="969.1" cy="449.9" r="4.3"/>
<circle class="o" cx="1000.7" cy="453.3" r="4.3"/>
<circle class="o" cx="1005.7" cy="452.4" r="4.3"/>
<circle class="o" cx="1026.5" cy="449.1" r="4.3"/>
<circle class="o" cx="1034.1" cy="458.3" r="4.3"/>
<circle class="o" cx="853.3" cy="463.7" r="4.3"/>
<circle class="o" cx="861.6" cy="466.2" r="4.3"/>
<circle class="o" cx="866.6" cy="460.0" r="4.3"/>
<circle class="o" cx="880.7" cy="461.6" r="4.3"/>
<circle class="o" cx="879.5" cy="467.5" r="4.3"/>
<circle class="o" cx="895.3" cy="468.7" r="4.3"/>
<circle class="o" cx="899.9" cy="473.3" r="4.3"/>
<circle class="o" cx="898.2" cy="458.3" r="4.3"/>
<circle class="o" cx="863.7" cy="475.0" r="4.3"/>
<circle class="o" cx="886.5" cy="475.8" r="4.3"/>
<circle class="o" cx="837.4" cy="483.3" r="4.3"/>
<circle class="o" cx="843.3" cy="482.5" r="4.3"/>
<circle class="o" cx="841.6" cy="490.8" r="4.3"/>
<circle class="o" cx="846.6" cy="491.6" r="4.3"/>
<circle class="o" cx="859.9" cy="484.9" r="4.3"/>
<circle class="o" cx="860.7" cy="489.1" r="4.3"/>
<circle class="o" cx="874.9" cy="484.1" r="4.3"/>
<circle class="o" cx="879.9" cy="486.6" r="4.3"/>
<circle class="o" cx="886.5" cy="486.6" r="4.3"/>
<circle class="o" cx="893.2" cy="484.1" r="4.3"/>
<circle class="o" cx="908.2" cy="484.9" r="4.3"/>
<circle class="o" cx="908.2" cy="477.5" r="4.3"/>
<circle class="o" cx="873.2" cy="479.1" r="4.3"/>
<circle class="o" cx="954.9" cy="458.3" r="4.3"/>
<circle class="o" cx="959.1" cy="462.5" r="4.3"/>
<circle class="o" cx="977.4" cy="454.6" r="4.3"/>
<circle class="o" cx="990.7" cy="458.3" r="4.3"/>
<circle class="o" cx="998.2" cy="455.8" r="4.3"/>
<circle class="o" cx="1017.3" cy="460.0" r="4.3"/>
<circle class="o" cx="932.5" cy="465.0" r="4.3"/>
<circle class="o" cx="935.8" cy="465.8" r="4.3"/>
<circle class="o" cx="945.1" cy="464.6" r="4.3"/>
<circle class="o" cx="935.0" cy="472.5" r="4.3"/>
<circle class="o" cx="911.7" cy="478.3" r="4.3"/>
<circle class="o" cx="923.3" cy="477.5" r="4.3"/>
<circle class="o" cx="926.6" cy="474.1" r="4.3"/>
<circle class="o" cx="922.5" cy="484.9" r="4.3"/>
<circle class="o" cx="911.7" cy="484.9" r="4.3"/>
<circle class="o" cx="932.5" cy="482.5" r="4.3"/>
<circle class="o" cx="949.9" cy="475.8" r="4.3"/>
<circle class="o" cx="958.3" cy="475.0" r="4.3"/>
<circle class="o" cx="945.8" cy="482.5" r="4.3"/>
<circle class="o" cx="968.2" cy="477.5" r="4.3"/>
<circle class="o" cx="979.9" cy="474.1" r="4.3"/>
<circle class="o" cx="976.6" cy="482.5" r="4.3"/>
<circle class="o" cx="984.9" cy="485.8" r="4.3"/>
<circle class="o" cx="989.0" cy="487.4" r="4.3"/>
<circle class="o" cx="993.2" cy="477.5" r="4.3"/>
<circle class="o" cx="1000.7" cy="474.1" r="4.3"/>
<circle class="o" cx="1011.5" cy="475.0" r="4.3"/>
<circle class="o" cx="1016.5" cy="477.5" r="4.3"/>
<circle class="o" cx="1012.3" cy="484.1" r="4.3"/>
<circle class="o" cx="1008.2" cy="479.1" r="4.3"/>
<circle class="o" cx="1033.3" cy="462.5" r="4.3"/>
<circle class="o" cx="1035.8" cy="469.1" r="4.3"/>
<circle class="o" cx="1022.5" cy="456.7" r="4.3"/>
<circle class="o" cx="1050.0" cy="470.4" r="4.3"/>
<circle class="o" cx="1044.1" cy="475.8" r="4.3"/>
<circle class="o" cx="1024.2" cy="475.0" r="4.3"/>
<circle class="o" cx="1030.0" cy="480.0" r="4.3"/>
<circle class="o" cx="1035.0" cy="486.6" r="4.3"/>
<circle class="o" cx="1032.5" cy="483.3" r="4.3"/>
<circle class="o" cx="1041.6" cy="484.1" r="4.3"/>
<circle class="o" cx="1047.5" cy="483.3" r="4.3"/>
<circle class="o" cx="1054.9" cy="478.3" r="4.3"/>
<circle class="o" cx="1057.4" cy="484.9" r="4.3"/>
<circle class="o" cx="1065.3" cy="472.5" r="4.3"/>
<circle class="o" cx="1063.3" cy="478.3" r="4.3"/>
<circle class="o" cx="1064.9" cy="486.6" r="4.3"/>
<circle class="o" cx="1069.9" cy="483.3" r="4.3"/>
<circle class="o" cx="1074.9" cy="475.8" r="4.3"/>
<circle class="o" cx="1077.4" cy="480.8" r="4.3"/>
<circle class="o" cx="1079.1" cy="484.1" r="4.3"/>
<circle class="o" cx="1085.5" cy="471.2" r="4.3"/>
<circle class="o" cx="1093.2" cy="478.3" r="4.3"/>
<circle class="o" cx="1105.7" cy="476.6" r="4.3"/>
<circle class="o" cx="1110.7" cy="478.3" r="4.3"/>
<circle class="o" cx="1022.5" cy="478.3" r="4.3"/>
<circle class="o" cx="851.6" cy="415.8" r="4.3"/>
<circle class="o" cx="857.4" cy="415.0" r="4.3"/>
<circle class="o" cx="864.1" cy="419.1" r="4.3"/>
<circle class="o" cx="852.5" cy="426.6" r="4.3"/>
<circle class="o" cx="856.6" cy="432.5" r="4.3"/>
<circle class="o" cx="853.3" cy="441.6" r="4.3"/>
<circle class="o" cx="863.3" cy="444.9" r="4.3"/>
<circle class="o" cx="869.9" cy="443.3" r="4.3"/>
<circle class="o" cx="853.3" cy="404.2" r="4.3"/>
<circle class="o" cx="848.3" cy="427.5" r="4.3"/>
<circle class="o" cx="866.6" cy="431.6" r="4.3"/>
<circle class="o" cx="917.5" cy="480.8" r="4.3"/>
<circle class="o" cx="937.5" cy="478.7" r="4.3"/>
<circle class="o" cx="960.8" cy="482.0" r="4.3"/>
<circle class="o" cx="984.1" cy="479.1" r="4.3"/>
<circle class="o" cx="1004.9" cy="478.7" r="4.3"/>
<circle class="o" cx="1018.2" cy="482.5" r="4.3"/>
<circle class="o" cx="941.6" cy="477.5" r="4.3"/>
<circle class="o" cx="972.4" cy="475.0" r="4.3"/>
<circle class="o" cx="853.3" cy="486.6" r="4.3"/>
<circle class="o" cx="869.1" cy="478.3" r="4.3"/>
<circle class="o" cx="898.2" cy="484.9" r="4.3"/>
<circle class="p" cx="960.1" cy="96.3" r="4.3"/>
<circle class="p" cx="988.6" cy="100.3" r="4.3"/>
<circle class="p" cx="873.9" cy="104.8" r="4.3"/>
<circle class="p" cx="849.1" cy="120.4" r="4.3"/>
<circle class="p" cx="953.6" cy="125.1" r="4.3"/>
<circle class="p" cx="975.1" cy="133.6" r="4.3"/>
<circle class="p" cx="980.8" cy="140.6" r="4.3"/>
<circle class="p" cx="1031.3" cy="133.8" r="4.3"/>
<circle class="p" cx="1022.7" cy="144.4" r="4.3"/>
<circle class="p" cx="856.3" cy="136.8" r="4.3"/>
<circle class="p" cx="847.0" cy="151.6" r="4.3"/>
<circle class="p" cx="960.1" cy="148.4" r="4.3"/>
<circle class="p" cx="970.8" cy="158.6" r="4.3"/>
<circle class="p" cx="999.2" cy="157.7" r="4.3"/>
<circle class="p" cx="853.8" cy="161.2" r="4.3"/>
<circle class="p" cx="857.4" cy="159.9" r="4.3"/>
<circle class="p" cx="861.3" cy="164.0" r="4.3"/>
<circle class="p" cx="873.9" cy="167.9" r="4.3"/>
<circle class="p" cx="863.3" cy="174.2" r="4.3"/>
<circle class="p" cx="902.7" cy="171.7" r="4.3"/>
<circle class="p" cx="908.9" cy="171.0" r="4.3"/>
<circle class="p" cx="919.5" cy="172.5" r="4.3"/>
<circle class="p" cx="1002.1" cy="176.4" r="4.3"/>
<circle class="p" cx="1034.2" cy="178.0" r="4.3"/>
<circle class="p" cx="994.7" cy="182.5" r="4.3"/>
<circle class="p" cx="1029.7" cy="184.5" r="4.3"/>
<circle class="p" cx="849.6" cy="180.7" r="4.3"/>
<circle class="p" cx="858.3" cy="185.5" r="4.3"/>
<circle class="p" cx="861.3" cy="187.3" r="4.3"/>
<circle class="p" cx="849.6" cy="191.5" r="4.3"/>
<circle class="p" cx="873.3" cy="194.3" r="4.3"/>
<circle class="p" cx="935.2" cy="185.8" r="4.3"/>
<circle class="p" cx="943.8" cy="186.5" r="4.3"/>
<circle class="p" cx="952.3" cy="184.2" r="4.3"/>
<circle class="p" cx="957.3" cy="190.2" r="4.3"/>
<circle class="p" cx="971.4" cy="185.8" r="4.3"/>
<circle class="p" cx="987.7" cy="185.7" r="4.3"/>
<circle class="p" cx="988.9" cy="191.0" r="4.3"/>
<circle class="p" cx="1040.0" cy="193.2" r="4.3"/>
<circle class="p" cx="1070.0" cy="130.4" r="4.3"/>
<circle class="p" cx="1053.5" cy="143.7" r="4.3"/>
<circle class="p" cx="1065.5" cy="149.9" r="4.3"/>
<circle class="p" cx="1115.4" cy="146.9" r="4.3"/>
<circle class="p" cx="1222.2" cy="138.3" r="4.3"/>
<circle class="p" cx="1055.0" cy="181.9" r="4.3"/>
<circle class="p" cx="1070.5" cy="178.7" r="4.3"/>
<circle class="p" cx="1108.2" cy="185.7" r="4.3"/>
<circle class="p" cx="1076.9" cy="191.0" r="4.3"/>
<circle class="p" cx="1056.3" cy="194.5" r="4.3"/>
<circle class="p" cx="1094.1" cy="193.7" r="4.3"/>
<circle class="p" cx="1076.3" cy="198.3" r="4.3"/>
<circle class="p" cx="1081.3" cy="201.3" r="4.3"/>
<circle class="p" cx="1078.3" cy="207.1" r="4.3"/>
<circle class="p" cx="1041.7" cy="204.6" r="4.3"/>
<circle class="p" cx="1092.8" cy="205.0" r="4.3"/>
<circle class="p" cx="1094.1" cy="213.0" r="4.3"/>
<circle class="p" cx="1089.6" cy="215.5" r="4.3"/>
<circle class="p" cx="1049.2" cy="213.8" r="4.3"/>
<circle class="p" cx="1059.6" cy="211.3" r="4.3"/>
<circle class="p" cx="1058.3" cy="217.5" r="4.3"/>
<circle class="p" cx="1056.1" cy="218.8" r="4.3"/>
<circle class="p" cx="1124.5" cy="210.8" r="4.3"/>
<circle class="p" cx="1133.2" cy="216.6" r="4.3"/>
<circle class="p" cx="1138.9" cy="223.3" r="4.3"/>
<circle class="p" cx="1049.2" cy="224.9" r="4.3"/>
<circle class="p" cx="1042.5" cy="227.8" r="4.3"/>
<circle class="p" cx="1054.6" cy="230.3" r="4.3"/>
<circle class="p" cx="1069.1" cy="225.8" r="4.3"/>
<circle class="p" cx="1070.0" cy="233.6" r="4.3"/>
<circle class="p" cx="1095.4" cy="224.6" r="4.3"/>
<circle class="p" cx="1085.8" cy="229.9" r="4.3"/>
<circle class="p" cx="1082.4" cy="232.4" r="4.3"/>
<circle class="p" cx="1111.1" cy="229.4" r="4.3"/>
<circle class="p" cx="1061.6" cy="236.9" r="4.3"/>
<circle class="p" cx="1063.3" cy="239.6" r="4.3"/>
<circle class="p" cx="1072.5" cy="239.1" r="4.3"/>
<circle class="p" cx="1044.7" cy="239.6" r="4.3"/>
<circle class="p" cx="1108.2" cy="238.8" r="4.3"/>
<circle class="p" cx="1097.4" cy="237.1" r="4.3"/>
<circle class="p" cx="1093.3" cy="241.9" r="4.3"/>
<circle class="p" cx="1134.0" cy="243.3" r="4.3"/>
<circle class="p" cx="1143.2" cy="241.6" r="4.3"/>
<circle class="p" cx="1190.3" cy="246.6" r="4.3"/>
<circle class="p" cx="1047.5" cy="245.7" r="4.3"/>
<circle class="p" cx="1053.0" cy="247.7" r="4.3"/>
<circle class="p" cx="1071.3" cy="245.7" r="4.3"/>
<circle class="p" cx="1079.1" cy="246.2" r="4.3"/>
<circle class="p" cx="1084.1" cy="251.2" r="4.3"/>
<circle class="p" cx="1088.3" cy="249.6" r="4.3"/>
<circle class="p" cx="1097.7" cy="254.4" r="4.3"/>
<circle class="p" cx="1107.4" cy="252.1" r="4.3"/>
<circle class="p" cx="1121.5" cy="257.4" r="4.3"/>
<circle class="p" cx="1151.2" cy="259.6" r="4.3"/>
<circle class="p" cx="1049.2" cy="255.7" r="4.3"/>
<circle class="p" cx="1074.9" cy="266.6" r="4.3"/>
<circle class="p" cx="1059.1" cy="267.9" r="4.3"/>
<circle class="p" cx="1058.8" cy="272.4" r="4.3"/>
<circle class="p" cx="1138.2" cy="269.9" r="4.3"/>
<circle class="p" cx="1041.3" cy="276.2" r="4.3"/>
<circle class="p" cx="1050.8" cy="276.5" r="4.3"/>
<circle class="p" cx="1055.8" cy="279.9" r="4.3"/>
<circle class="p" cx="1072.5" cy="276.0" r="4.3"/>
<circle class="p" cx="1074.9" cy="281.5" r="4.3"/>
<circle class="p" cx="1079.9" cy="279.9" r="4.3"/>
<circle class="p" cx="1050.8" cy="284.9" r="4.3"/>
<circle class="p" cx="1057.8" cy="288.2" r="4.3"/>
<circle class="p" cx="1040.8" cy="287.0" r="4.3"/>
<circle class="p" cx="1092.8" cy="289.4" r="4.3"/>
<circle class="p" cx="1105.4" cy="294.8" r="4.3"/>
<circle class="p" cx="1074.9" cy="297.3" r="4.3"/>
<circle class="p" cx="1054.1" cy="300.3" r="4.3"/>
<circle class="p" cx="1112.7" cy="303.3" r="4.3"/>
<circle class="p" cx="1124.0" cy="303.3" r="4.3"/>
<circle class="p" cx="850.0" cy="197.1" r="4.3"/>
<circle class="p" cx="853.7" cy="200.0" r="4.3"/>
<circle class="p" cx="889.7" cy="199.8" r="4.3"/>
<circle class="p" cx="866.2" cy="208.7" r="4.3"/>
<circle class="p" cx="848.7" cy="211.8" r="4.3"/>
<circle class="p" cx="852.9" cy="211.2" r="4.3"/>
<circle class="p" cx="874.9" cy="213.7" r="4.3"/>
<circle class="p" cx="864.9" cy="215.0" r="4.3"/>
<circle class="p" cx="859.1" cy="217.9" r="4.3"/>
<circle class="p" cx="862.4" cy="218.7" r="4.3"/>
<circle class="p" cx="870.8" cy="217.9" r="4.3"/>
<circle class="p" cx="885.5" cy="215.4" r="4.3"/>
<circle class="p" cx="910.4" cy="216.2" r="4.3"/>
<circle class="p" cx="844.1" cy="221.5" r="4.3"/>
<circle class="p" cx="852.0" cy="224.1" r="4.3"/>
<circle class="p" cx="881.7" cy="223.9" r="4.3"/>
<circle class="p" cx="872.6" cy="227.9" r="4.3"/>
<circle class="p" cx="857.4" cy="226.6" r="4.3"/>
<circle class="p" cx="892.0" cy="227.9" r="4.3"/>
<circle class="p" cx="894.9" cy="227.0" r="4.3"/>
<circle class="p" cx="891.6" cy="235.3" r="4.3"/>
<circle class="p" cx="895.3" cy="234.5" r="4.3"/>
<circle class="p" cx="906.1" cy="237.8" r="4.3"/>
<circle class="p" cx="920.3" cy="242.0" r="4.3"/>
<circle class="p" cx="847.9" cy="237.0" r="4.3"/>
<circle class="p" cx="858.7" cy="234.1" r="4.3"/>
<circle class="p" cx="865.8" cy="237.4" r="4.3"/>
<circle class="p" cx="874.1" cy="237.0" r="4.3"/>
<circle class="p" cx="869.9" cy="241.6" r="4.3"/>
<circle class="p" cx="853.3" cy="241.6" r="4.3"/>
<circle class="p" cx="858.3" cy="239.9" r="4.3"/>
<circle class="p" cx="979.9" cy="199.2" r="4.3"/>
<circle class="p" cx="973.7" cy="201.5" r="4.3"/>
<circle class="p" cx="961.6" cy="207.6" r="4.3"/>
<circle class="p" cx="989.2" cy="204.6" r="4.3"/>
<circle class="p" cx="1003.5" cy="202.9" r="4.3"/>
<circle class="p" cx="1012.8" cy="208.5" r="4.3"/>
<circle class="p" cx="1024.0" cy="205.0" r="4.3"/>
<circle class="p" cx="1032.9" cy="199.7" r="4.3"/>
<circle class="p" cx="958.3" cy="217.0" r="4.3"/>
<circle class="p" cx="963.3" cy="220.8" r="4.3"/>
<circle class="p" cx="969.5" cy="217.5" r="4.3"/>
<circle class="p" cx="935.8" cy="224.8" r="4.3"/>
<circle class="p" cx="950.8" cy="229.4" r="4.3"/>
<circle class="p" cx="985.7" cy="220.0" r="4.3"/>
<circle class="p" cx="1003.2" cy="217.9" r="4.3"/>
<circle class="p" cx="1001.1" cy="222.0" r="4.3"/>
<circle class="p" cx="1001.6" cy="227.4" r="4.3"/>
<circle class="p" cx="971.2" cy="228.7" r="4.3"/>
<circle class="p" cx="974.9" cy="228.3" r="4.3"/>
<circle class="p" cx="983.3" cy="226.6" r="4.3"/>
<circle class="p" cx="989.5" cy="227.4" r="4.3"/>
<circle class="p" cx="988.2" cy="230.8" r="4.3"/>
<circle class="p" cx="1013.2" cy="225.4" r="4.3"/>
<circle class="p" cx="1017.4" cy="228.3" r="4.3"/>
<circle class="p" cx="1016.5" cy="231.6" r="4.3"/>
<circle class="p" cx="1020.3" cy="231.6" r="4.3"/>
<circle class="p" cx="1022.4" cy="214.5" r="4.3"/>
<circle class="p" cx="1026.5" cy="215.0" r="4.3"/>
<circle class="p" cx="1034.0" cy="215.4" r="4.3"/>
<circle class="p" cx="1027.9" cy="224.7" r="4.3"/>
<circle class="p" cx="974.9" cy="236.6" r="4.3"/>
<circle class="p" cx="980.8" cy="239.1" r="4.3"/>
<circle class="p" cx="973.7" cy="242.4" r="4.3"/>
<circle class="p" cx="1030.7" cy="242.4" r="4.3"/>
<circle class="p" cx="1007.8" cy="242.4" r="4.3"/>
<circle class="p" cx="1003.2" cy="244.5" r="4.3"/>
<circle class="p" cx="1014.9" cy="243.3" r="4.3"/>
<circle class="p" cx="948.7" cy="248.7" r="4.3"/>
<circle class="p" cx="847.5" cy="251.2" r="4.3"/>
<circle class="p" cx="858.3" cy="248.3" r="4.3"/>
<circle class="p" cx="860.8" cy="253.3" r="4.3"/>
<circle class="p" cx="868.3" cy="255.4" r="4.3"/>
<circle class="p" cx="853.3" cy="258.7" r="4.3"/>
<circle class="p" cx="859.9" cy="259.1" r="4.3"/>
<circle class="p" cx="885.3" cy="250.8" r="4.3"/>
<circle class="p" cx="880.7" cy="256.6" r="4.3"/>
<circle class="p" cx="884.9" cy="260.8" r="4.3"/>
<circle class="p" cx="899.9" cy="251.6" r="4.3"/>
<circle class="p" cx="902.4" cy="256.2" r="4.3"/>
<circle class="p" cx="916.1" cy="252.5" r="4.3"/>
<circle class="p" cx="933.7" cy="255.8" r="4.3"/>
<circle class="p" cx="848.3" cy="269.5" r="4.3"/>
<circle class="p" cx="845.0" cy="274.1" r="4.3"/>
<circle class="p" cx="845.4" cy="277.9" r="4.3"/>
<circle class="p" cx="873.3" cy="264.1" r="4.3"/>
<circle class="p" cx="869.1" cy="266.6" r="4.3"/>
<circle class="p" cx="863.3" cy="268.3" r="4.3"/>
<circle class="p" cx="884.9" cy="266.6" r="4.3"/>
<circle class="p" cx="884.1" cy="271.6" r="4.3"/>
<circle class="p" cx="878.2" cy="273.3" r="4.3"/>
<circle class="p" cx="871.6" cy="273.3" r="4.3"/>
<circle class="p" cx="864.9" cy="274.1" r="4.3"/>
<circle class="p" cx="859.1" cy="275.8" r="4.3"/>
<circle class="p" cx="889.9" cy="277.0" r="4.3"/>
<circle class="p" cx="874.9" cy="278.3" r="4.3"/>
<circle class="p" cx="868.3" cy="279.9" r="4.3"/>
<circle class="p" cx="861.6" cy="279.9" r="4.3"/>
<circle class="p" cx="879.9" cy="281.6" r="4.3"/>
<circle class="p" cx="874.1" cy="284.1" r="4.3"/>
<circle class="p" cx="866.6" cy="285.8" r="4.3"/>
<circle class="p" cx="857.4" cy="286.6" r="4.3"/>
<circle class="p" cx="883.2" cy="288.3" r="4.3"/>
<circle class="p" cx="878.2" cy="291.6" r="4.3"/>
<circle class="p" cx="869.1" cy="291.6" r="4.3"/>
<circle class="p" cx="861.6" cy="291.6" r="4.3"/>
<circle class="p" cx="854.9" cy="293.3" r="4.3"/>
<circle class="p" cx="903.2" cy="279.9" r="4.3"/>
<circle class="p" cx="907.0" cy="279.1" r="4.3"/>
<circle class="p" cx="907.4" cy="282.4" r="4.3"/>
<circle class="p" cx="903.2" cy="286.6" r="4.3"/>
<circle class="p" cx="896.1" cy="289.9" r="4.3"/>
<circle class="p" cx="925.3" cy="289.9" r="4.3"/>
<circle class="p" cx="917.4" cy="295.4" r="4.3"/>
<circle class="p" cx="942.5" cy="253.3" r="4.3"/>
<circle class="p" cx="949.6" cy="254.6" r="4.3"/>
<circle class="p" cx="963.7" cy="249.6" r="4.3"/>
<circle class="p" cx="956.6" cy="259.7" r="4.3"/>
<circle class="p" cx="979.9" cy="250.4" r="4.3"/>
<circle class="p" cx="973.7" cy="256.6" r="4.3"/>
<circle class="p" cx="968.7" cy="264.5" r="4.3"/>
<circle class="p" cx="976.6" cy="262.9" r="4.3"/>
<circle class="p" cx="990.7" cy="252.5" r="4.3"/>
<circle class="p" cx="996.6" cy="256.6" r="4.3"/>
<circle class="p" cx="987.8" cy="265.4" r="4.3"/>
<circle class="p" cx="1011.5" cy="250.8" r="4.3"/>
<circle class="p" cx="1020.3" cy="249.2" r="4.3"/>
<circle class="p" cx="1018.6" cy="258.3" r="4.3"/>
<circle class="p" cx="1012.8" cy="263.7" r="4.3"/>
<circle class="p" cx="1029.9" cy="255.8" r="4.3"/>
<circle class="p" cx="950.8" cy="269.1" r="4.3"/>
<circle class="p" cx="955.8" cy="269.1" r="4.3"/>
<circle class="p" cx="964.9" cy="272.5" r="4.3"/>
<circle class="p" cx="935.4" cy="275.8" r="4.3"/>
<circle class="p" cx="940.0" cy="275.8" r="4.3"/>
<circle class="p" cx="940.8" cy="283.3" r="4.3"/>
<circle class="p" cx="955.0" cy="286.2" r="4.3"/>
<circle class="p" cx="966.6" cy="284.5" r="4.3"/>
<circle class="p" cx="980.8" cy="274.1" r="4.3"/>
<circle class="p" cx="984.5" cy="279.9" r="4.3"/>
<circle class="p" cx="997.0" cy="269.5" r="4.3"/>
<circle class="p" cx="1004.9" cy="268.7" r="4.3"/>
<circle class="p" cx="1009.9" cy="270.8" r="4.3"/>
<circle class="p" cx="992.8" cy="276.6" r="4.3"/>
<circle class="p" cx="1000.7" cy="274.9" r="4.3"/>
<circle class="p" cx="1004.9" cy="274.1" r="4.3"/>
<circle class="p" cx="1016.5" cy="273.7" r="4.3"/>
<circle class="p" cx="1018.6" cy="276.6" r="4.3"/>
<circle class="p" cx="1029.0" cy="266.6" r="4.3"/>
<circle class="p" cx="1036.5" cy="264.1" r="4.3"/>
<circle class="p" cx="1029.0" cy="274.1" r="4.3"/>
<circle class="p" cx="1034.0" cy="276.6" r="4.3"/>
<circle class="p" cx="1031.5" cy="283.7" r="4.3"/>
<circle class="p" cx="994.9" cy="287.4" r="4.3"/>
<circle class="p" cx="987.0" cy="291.6" r="4.3"/>
<circle class="p" cx="983.3" cy="291.6" r="4.3"/>
<circle class="p" cx="1002.8" cy="294.6" r="4.3"/>
<circle class="p" cx="1009.9" cy="293.7" r="4.3"/>
<circle class="p" cx="944.6" cy="297.9" r="4.3"/>
<circle class="p" cx="839.7" cy="300.2" r="4.3"/>
<circle class="p" cx="849.5" cy="300.0" r="4.3"/>
<circle class="p" cx="859.9" cy="300.8" r="4.3"/>
<circle class="p" cx="867.4" cy="295.0" r="4.3"/>
<circle class="p" cx="866.6" cy="302.5" r="4.3"/>
<circle class="p" cx="875.7" cy="299.6" r="4.3"/>
<circle class="p" cx="885.3" cy="300.4" r="4.3"/>
<circle class="p" cx="895.3" cy="298.3" r="4.3"/>
<circle class="p" cx="890.9" cy="308.1" r="4.3"/>
<circle class="p" cx="874.1" cy="309.6" r="4.3"/>
<circle class="p" cx="871.6" cy="315.4" r="4.3"/>
<circle class="p" cx="851.6" cy="313.3" r="4.3"/>
<circle class="p" cx="857.4" cy="315.0" r="4.3"/>
<circle class="p" cx="862.4" cy="319.1" r="4.3"/>
<circle class="p" cx="848.7" cy="322.9" r="4.3"/>
<circle class="p" cx="864.9" cy="324.1" r="4.3"/>
<circle class="p" cx="874.9" cy="325.8" r="4.3"/>
<circle class="p" cx="873.3" cy="329.1" r="4.3"/>
<circle class="p" cx="892.4" cy="332.9" r="4.3"/>
<circle class="p" cx="902.4" cy="332.0" r="4.3"/>
<circle class="p" cx="918.2" cy="332.4" r="4.3"/>
<circle class="p" cx="911.1" cy="314.5" r="4.3"/>
<circle class="p" cx="911.1" cy="320.0" r="4.3"/>
<circle class="p" cx="920.3" cy="321.2" r="4.3"/>
<circle class="p" cx="931.7" cy="323.3" r="4.3"/>
<circle class="p" cx="923.2" cy="339.9" r="4.3"/>
<circle class="p" cx="857.4" cy="336.6" r="4.3"/>
<circle class="p" cx="849.5" cy="339.9" r="4.3"/>
<circle class="p" cx="859.1" cy="343.3" r="4.3"/>
<circle class="p" cx="883.2" cy="343.3" r="4.3"/>
<circle class="p" cx="893.2" cy="343.7" r="4.3"/>
<circle class="p" cx="991.6" cy="294.2" r="4.3"/>
<circle class="p" cx="1014.0" cy="301.2" r="4.3"/>
<circle class="p" cx="1028.6" cy="303.3" r="4.3"/>
<circle class="p" cx="1038.2" cy="304.1" r="4.3"/>
<circle class="p" cx="998.6" cy="307.9" r="4.3"/>
<circle class="p" cx="987.8" cy="311.8" r="4.3"/>
<circle class="p" cx="1021.9" cy="313.3" r="4.3"/>
<circle class="p" cx="1029.9" cy="315.6" r="4.3"/>
<circle class="p" cx="937.5" cy="329.9" r="4.3"/>
<circle class="p" cx="953.7" cy="325.8" r="4.3"/>
<circle class="p" cx="963.0" cy="323.3" r="4.3"/>
<circle class="p" cx="958.7" cy="334.5" r="4.3"/>
<circle class="p" cx="975.8" cy="330.4" r="4.3"/>
<circle class="p" cx="992.2" cy="326.6" r="4.3"/>
<circle class="p" cx="1000.7" cy="329.8" r="4.3"/>
<circle class="p" cx="1020.7" cy="323.7" r="4.3"/>
<circle class="p" cx="1027.8" cy="325.8" r="4.3"/>
<circle class="p" cx="1025.7" cy="330.8" r="4.3"/>
<circle class="p" cx="966.6" cy="341.2" r="4.3"/>
<circle class="p" cx="977.2" cy="339.9" r="4.3"/>
<circle class="p" cx="1003.0" cy="340.3" r="4.3"/>
<circle class="p" cx="954.5" cy="347.8" r="4.3"/>
<circle class="p" cx="973.9" cy="348.3" r="4.3"/>
<circle class="p" cx="1002.7" cy="347.5" r="4.3"/>
<circle class="p" cx="1062.8" cy="305.0" r="4.3"/>
<circle class="p" cx="1089.9" cy="307.0" r="4.3"/>
<circle class="p" cx="1093.3" cy="314.5" r="4.3"/>
<circle class="p" cx="1085.4" cy="321.6" r="4.3"/>
<circle class="p" cx="1088.3" cy="327.8" r="4.3"/>
<circle class="p" cx="1106.1" cy="330.4" r="4.3"/>
<circle class="p" cx="1045.8" cy="328.8" r="4.3"/>
<circle class="p" cx="1048.7" cy="330.8" r="4.3"/>
<circle class="p" cx="1051.3" cy="346.9" r="4.3"/>
<circle class="p" cx="1067.6" cy="344.4" r="4.3"/>
<circle class="p" cx="1071.3" cy="355.2" r="4.3"/>
<circle class="p" cx="1070.0" cy="361.9" r="4.3"/>
<circle class="p" cx="1068.3" cy="364.9" r="4.3"/>
<circle class="p" cx="1081.9" cy="361.1" r="4.3"/>
<circle class="p" cx="1113.2" cy="359.4" r="4.3"/>
<circle class="p" cx="1052.8" cy="367.1" r="4.3"/>
<circle class="p" cx="1101.1" cy="371.7" r="4.3"/>
<circle class="p" cx="1086.9" cy="378.0" r="4.3"/>
<circle class="p" cx="1042.5" cy="378.7" r="4.3"/>
<circle class="p" cx="1067.6" cy="384.2" r="4.3"/>
<circle class="p" cx="1066.1" cy="390.7" r="4.3"/>
<circle class="p" cx="1049.2" cy="395.2" r="4.3"/>
<circle class="p" cx="1062.0" cy="400.5" r="4.3"/>
<circle class="p" cx="1037.7" cy="389.6" r="4.3"/>
<circle class="p" cx="944.3" cy="350.8" r="4.3"/>
<circle class="p" cx="967.3" cy="353.8" r="4.3"/>
<circle class="p" cx="849.1" cy="360.8" r="4.3"/>
<circle class="p" cx="868.3" cy="357.5" r="4.3"/>
<circle class="p" cx="865.8" cy="361.6" r="4.3"/>
<circle class="p" cx="871.3" cy="365.8" r="4.3"/>
<circle class="p" cx="878.2" cy="355.3" r="4.3"/>
<circle class="p" cx="874.9" cy="356.6" r="4.3"/>
<circle class="p" cx="881.1" cy="365.0" r="4.3"/>
<circle class="p" cx="924.0" cy="360.0" r="4.3"/>
<circle class="p" cx="927.3" cy="367.5" r="4.3"/>
<circle class="p" cx="946.0" cy="362.5" r="4.3"/>
<circle class="p" cx="958.0" cy="368.8" r="4.3"/>
<circle class="p" cx="977.3" cy="361.1" r="4.3"/>
<circle class="p" cx="1014.2" cy="358.3" r="4.3"/>
<circle class="p" cx="1031.8" cy="359.5" r="4.3"/>
<circle class="p" cx="853.3" cy="370.5" r="4.3"/>
<circle class="p" cx="1009.2" cy="372.0" r="4.3"/>
<circle class="p" cx="986.4" cy="374.1" r="4.3"/>
<circle class="p" cx="977.8" cy="379.6" r="4.3"/>
<circle class="p" cx="868.3" cy="377.8" r="4.3"/>
<circle class="p" cx="871.6" cy="379.1" r="4.3"/>
<circle class="p" cx="886.1" cy="374.6" r="4.3"/>
<circle class="p" cx="889.9" cy="376.3" r="4.3"/>
<circle class="p" cx="893.7" cy="378.3" r="4.3"/>
<circle class="p" cx="904.5" cy="378.1" r="4.3"/>
<circle class="p" cx="852.5" cy="382.9" r="4.3"/>
<circle class="p" cx="867.1" cy="384.6" r="4.3"/>
<circle class="p" cx="869.9" cy="388.3" r="4.3"/>
<circle class="p" cx="874.1" cy="390.8" r="4.3"/>
<circle class="p" cx="888.2" cy="388.9" r="4.3"/>
<circle class="p" cx="854.1" cy="394.4" r="4.3"/>
<circle class="p" cx="862.4" cy="394.4" r="4.3"/>
<circle class="p" cx="882.1" cy="394.9" r="4.3"/>
<circle class="p" cx="870.4" cy="398.2" r="4.3"/>
<circle class="p" cx="1017.2" cy="388.3" r="4.3"/>
<circle class="p" cx="903.2" cy="400.4" r="4.3"/>
<circle class="p" cx="938.2" cy="399.1" r="4.3"/>
<circle class="p" cx="965.9" cy="399.6" r="4.3"/>
<circle class="p" cx="852.5" cy="401.6" r="4.3"/>
<circle class="p" cx="864.9" cy="408.2" r="4.3"/>
<circle class="p" cx="861.6" cy="414.9" r="4.3"/>
<circle class="p" cx="881.1" cy="408.2" r="4.3"/>
<circle class="p" cx="908.7" cy="410.7" r="4.3"/>
<circle class="p" cx="945.3" cy="414.4" r="4.3"/>
<circle class="p" cx="1076.9" cy="406.1" r="4.3"/>
<circle class="p" cx="1097.6" cy="404.6" r="4.3"/>
<circle class="p" cx="1056.6" cy="417.5" r="4.3"/>
<circle class="p" cx="1123.2" cy="435.6" r="4.3"/>
<circle class="p" cx="1077.8" cy="442.6" r="4.3"/>
<circle class="p" cx="873.3" cy="424.5" r="4.3"/>
<circle class="p" cx="870.9" cy="433.3" r="4.3"/>
<circle class="p" cx="850.8" cy="430.4" r="4.3"/>
<circle class="p" cx="840.4" cy="438.7" r="4.3"/>
<circle class="p" cx="855.8" cy="437.9" r="4.3"/>
<circle class="p" cx="857.9" cy="441.2" r="4.3"/>
<circle class="p" cx="847.0" cy="444.9" r="4.3"/>
<circle class="p" cx="854.9" cy="449.1" r="4.3"/>
<circle class="p" cx="886.2" cy="444.9" r="4.3"/>
<circle class="p" cx="915.3" cy="430.2" r="4.3"/>
<circle class="p" cx="863.2" cy="456.7" r="4.3"/>
<circle class="p" cx="869.1" cy="455.8" r="4.3"/>
<circle class="p" cx="990.9" cy="431.9" r="4.3"/>
<circle class="p" cx="955.8" cy="446.2" r="4.3"/>
<circle class="p" cx="962.0" cy="444.5" r="4.3"/>
<circle class="p" cx="968.7" cy="444.9" r="4.3"/>
<circle class="p" cx="942.5" cy="449.5" r="4.3"/>
<circle class="p" cx="962.0" cy="453.7" r="4.3"/>
<circle class="p" cx="1018.6" cy="453.3" r="4.3"/>
<circle class="p" cx="846.2" cy="472.1" r="4.3"/>
<circle class="p" cx="856.6" cy="474.1" r="4.3"/>
<circle class="p" cx="849.9" cy="483.7" r="4.3"/>
<circle class="p" cx="854.1" cy="489.9" r="4.3"/>
<circle class="p" cx="868.2" cy="484.5" r="4.3"/>
<circle class="p" cx="853.3" cy="496.6" r="4.3"/>
<circle class="p" cx="906.1" cy="497.0" r="4.3"/>
<circle class="p" cx="971.4" cy="466.6" r="4.3"/>
<circle class="p" cx="957.3" cy="469.3" r="4.3"/>
<circle class="p" cx="1005.7" cy="467.5" r="4.3"/>
<circle class="p" cx="1019.0" cy="470.8" r="4.3"/>
<circle class="p" cx="949.5" cy="487.4" r="4.3"/>
<circle class="p" cx="953.1" cy="495.8" r="4.3"/>
<circle class="p" cx="937.3" cy="497.2" r="4.3"/>
<circle class="p" cx="1057.0" cy="467.5" r="4.3"/>
<circle class="p" cx="1037.9" cy="475.0" r="4.3"/>
<circle class="p" cx="1025.8" cy="485.8" r="4.3"/>
<circle class="p" cx="1046.4" cy="495.8" r="4.3"/>
<circle class="p" cx="1065.5" cy="496.3" r="4.3"/>
<circle class="p" cx="1117.6" cy="491.0" r="4.3"/>
<circle class="p" cx="864.1" cy="250.4" r="4.3"/>
<circle class="p" cx="857.0" cy="253.7" r="4.3"/>
<circle class="p" cx="864.9" cy="260.0" r="4.3"/>
<circle class="p" cx="877.4" cy="267.5" r="4.3"/>
<circle class="p" cx="883.2" cy="277.4" r="4.3"/>
<circle class="p" cx="870.8" cy="286.6" r="4.3"/>
<circle class="p" cx="878.2" cy="286.6" r="4.3"/>
<circle class="p" cx="854.9" cy="304.6" r="4.3"/>
<circle class="p" cx="861.6" cy="305.8" r="4.3"/>
<circle class="p" cx="869.1" cy="306.2" r="4.3"/>
<circle class="p" cx="859.1" cy="310.8" r="4.3"/>
<circle class="p" cx="855.8" cy="317.5" r="4.3"/>
<circle class="p" cx="869.9" cy="298.3" r="4.3"/>
<circle class="p" cx="873.3" cy="293.3" r="4.3"/>
<circle class="p" cx="853.3" cy="297.5" r="4.3"/>
<rect x="778.3" y="31.8" width="529.2" height="528" fill="none" stroke="#000" stroke-width="2.4"/>
<line x1="866.6" y1="560" x2="866.6" y2="553" stroke="#000" stroke-width="2"/>
<line x1="954.7" y1="560" x2="954.7" y2="553" stroke="#000" stroke-width="2"/>
<line x1="1042.8" y1="560" x2="1042.8" y2="553" stroke="#000" stroke-width="2"/>
<line x1="1130.9" y1="560" x2="1130.9" y2="553" stroke="#000" stroke-width="2"/>
<line x1="1219.0" y1="560" x2="1219.0" y2="553" stroke="#000" stroke-width="2"/>
<line x1="778.5" y1="97.8" x2="783.6" y2="97.8" stroke="#000" stroke-width="2.2"/>
<line x1="778.5" y1="163.7" x2="783.6" y2="163.7" stroke="#000" stroke-width="2.2"/>
<line x1="778.5" y1="229.6" x2="783.6" y2="229.6" stroke="#000" stroke-width="2.2"/>
<line x1="778.5" y1="295.5" x2="783.6" y2="295.5" stroke="#000" stroke-width="2.2"/>
<line x1="778.5" y1="361.4" x2="783.6" y2="361.4" stroke="#000" stroke-width="2.2"/>
<line x1="778.5" y1="427.3" x2="783.6" y2="427.3" stroke="#000" stroke-width="2.2"/>
<line x1="778.5" y1="493.2" x2="783.6" y2="493.2" stroke="#000" stroke-width="2.2"/>
<line x1="853.3" y1="33.7" x2="852.7" y2="553.5" stroke="#000" stroke-width="3.3" stroke-dasharray="12.8 10.135"/>
<line x1="783.6" y1="479.8" x2="1307" y2="479.8" stroke="#000" stroke-width="3.3" stroke-dasharray="12.95 10.005"/>
<text class="tk" transform="translate(764,57) scale(0.96,1)" text-anchor="end">80</text>
<text class="tk" transform="translate(764,173.4) scale(0.96,1)" text-anchor="end">60</text>
<text class="tk" transform="translate(764,305) scale(0.96,1)" text-anchor="end">40</text>
<text class="tk" transform="translate(764,436.9) scale(0.96,1)" text-anchor="end">20</text>
<text class="tk" transform="translate(764,569) scale(0.96,1)" text-anchor="end">0.0</text>
<text class="tk" transform="translate(777.4,602.5) scale(0.96,1)" text-anchor="middle">0</text>
<text class="tk" transform="translate(954.4,602.5) scale(0.96,1)" text-anchor="middle">10</text>
<text class="tk" transform="translate(1128.8,602.5) scale(0.96,1)" text-anchor="middle">20</text>
<text class="tk" transform="translate(1306.2,602.5) scale(0.96,1)" text-anchor="middle">30</text>
<text class="pl" transform="translate(797.5,81.3)">b</text>
<text class="ax" transform="translate(973.3,653.3) scale(0.96,1)"><tspan class="sup" dy="-10.6">15</tspan><tspan dy="10.6">N:</tspan><tspan class="sup" dy="-10.6">14</tspan><tspan dy="10.6">N (‰)</tspan></text>
<text class="ax" transform="translate(707.9,390) rotate(-90) scale(0.96,1)"><tspan class="sup" dy="-10.6">13</tspan><tspan dy="10.6">C:</tspan><tspan class="sup" dy="-10.6">12</tspan><tspan dy="10.6">C (‰)</tspan></text>
</g>
<g id="panel-c">
<rect x="1413.2" y="31.9" width="532.1" height="529" fill="none" stroke="#000" stroke-width="3.4"/>
<rect x="1488.2" y="105" width="71.5" height="289.1" rx="9" fill="#bfbfbf"/>
<rect x="1563" y="105" width="309" height="291.7" rx="48" fill="#bfbfbf"/>
<rect x="1488.2" y="403.6" width="72.9" height="72.6" rx="9.5" fill="#bfbfbf"/>
<rect x="1568" y="405.7" width="297.8" height="70.5" rx="9" fill="#bfbfbf"/>
<path d="M1518.2 484.5 V447.4 L1509 438.2 L1522.8 424.1 L1536.8 438.2 L1527.6 447.4 V484.5 Z" fill="#000"/>
<text class="pl" transform="translate(1429.5,82)">c</text>
<text class="bx" transform="translate(1717.1,242) scale(0.965,1)" text-anchor="middle">C uptake</text>
<text class="bx" transform="translate(1711.9,280) scale(0.965,1)" text-anchor="middle">and</text>
<text class="bx" transform="translate(1716.8,318) scale(0.965,1)" text-anchor="middle">N<tspan class="sup" dy="7">2</tspan><tspan dy="-7"> fixation</tspan></text>
<text class="bx" transform="translate(1716.9,452.2) scale(0.965,1)" text-anchor="middle">N<tspan class="sup" dy="7">2</tspan><tspan dy="-7"> fixation</tspan></text>
<text class="bx" transform="translate(1479.3,527.9) scale(0.965,1)">Inactive</text>
<text class="bx" transform="translate(1535,322.5) rotate(-90) scale(0.965,1)">C uptake</text>
<text class="ax" transform="translate(1609,610.9) scale(0.952,1)"><tspan class="sup" dy="-10.6">15</tspan><tspan dy="10.6">N:</tspan><tspan class="sup" dy="-10.6">14</tspan><tspan dy="10.6">N</tspan></text>
<text class="ax" transform="translate(1389,349.2) rotate(-90) scale(0.96,1)"><tspan class="sup" dy="-10.6">13</tspan><tspan dy="10.6">C:</tspan><tspan class="sup" dy="-10.6">12</tspan><tspan dy="10.6">C</tspan></text>
</g>
</svg></body></html>
